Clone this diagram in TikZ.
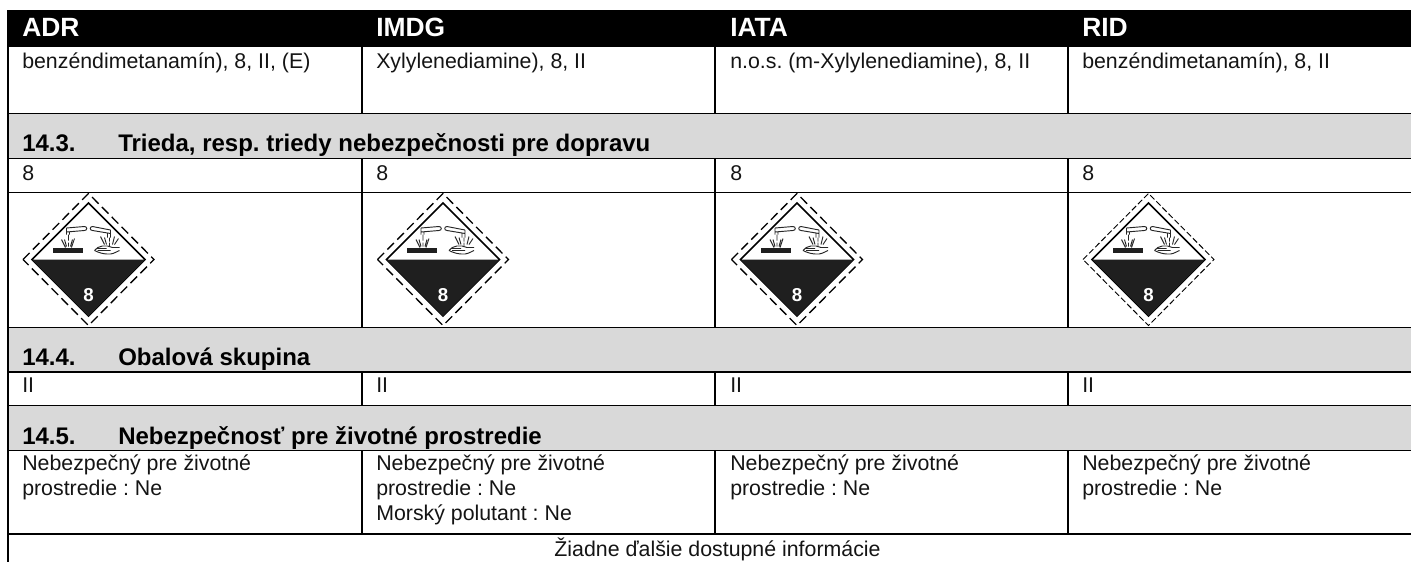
\documentclass[tikz,border=0pt]{standalone}
\usepackage{fontspec}
\setmainfont{Liberation Sans}
\definecolor{band}{RGB}{217,217,217}
\newcommand{\Ghs}[2]{%
 \begin{scope}[shift={(#1)}]
  \draw[dline,#2] (-65.5,0) -- (0,-66) -- (65.5,0) -- (0,66) -- cycle;
  \draw[line width=1.1pt,fill=white] (-56.5,0) -- (0,-56.5) -- (56.5,0) -- (0,56.5) -- cycle;
  \fill[inkd] (-56.5,0) -- (56.5,0) -- (0,56.5) -- cycle;
  \node[num] at (0,35.5) {8};
  \fill[inkd] (-36,-12) rectangle (-6,-7);
  \draw[picto] (-22,-31.5) -- (-4,-33) .. controls (-1,-33) and (-1,-29) .. (-4,-29) -- (-22,-27.5) (-22,-31.5) -- (-22,-25) (-19,-28) -- (-19,-25);
  \draw[picto] (-20,-25) -- (-20,-19) (-20,-17) -- (-20,-13) (-27,-20) -- (-23,-12) (-14,-21) -- (-17,-12) (-24,-20) -- (-22,-13) (-16,-20) -- (-18,-13);
  \draw[picto] (22,-29.5) -- (4,-33) .. controls (1,-33) and (1,-29) .. (4,-29) -- (22,-26) (22,-29.5) -- (22,-22) (19,-26.5) -- (19,-22);
  \draw[picto] (12,-23) -- (16,-15) (16,-22) -- (18,-15) (21,-22) -- (21,-18) (21,-17) -- (21,-13) (26,-23) -- (24,-15) (30,-21) -- (26,-15);
  \draw[picto,line width=0.7pt] (6,-9) .. controls (9,-14) and (18,-15) .. (24,-12) -- (31,-12) (6,-9) .. controls (10,-7) and (15,-5) .. (22,-5.5) .. controls (26,-6) and (28,-8) .. (31,-9) (9,-9) -- (22,-9) (8,-11) -- (18,-11);
 \end{scope}}
\tikzset{
 x=0.75pt,y=-0.75pt,
 rule/.style={line width=1.15pt,black},
 dline/.style={line width=1pt,dash pattern=on 7pt off 3.5pt,black},
 thind/.style={line width=0.7pt,dash pattern=on 4.5pt off 2pt},
 inkd/.style={fill=black!88},
 picto/.style={line width=0.7pt,black!85},
 num/.style={font=\bfseries\fontsize{14}{16}\selectfont,white,inner sep=0pt},
 head/.style={anchor=base west,font=\bfseries\fontsize{19.8}{22}\selectfont,white,inner sep=0pt},
 sect/.style={anchor=base west,font=\bfseries\fontsize{18}{20}\selectfont,black,inner sep=0pt},
 cell/.style={anchor=base west,font=\fontsize{16}{18}\selectfont,black!92,inner sep=0pt},
}
\begin{document}
\frenchspacing
\begin{tikzpicture}
\useasboundingbox (0,0) rectangle (1411,562);
\fill[black] (7,10) rectangle (1411,47);
\fill[band] (8,114) rectangle (1411,158);
\fill[band] (8,327) rectangle (1411,372);
\fill[band] (8,406) rectangle (1411,451);
\foreach \y in {113.5,158.5,192.5,327.3,372,405.7,450.5,534} \draw[rule] (7,\y) -- (1411,\y);
\draw[rule] (8,10) -- (8,562);
\foreach \x in {362,715,1068} {
 \draw[rule] (\x,47) -- (\x,113.5);
 \draw[rule] (\x,158.5) -- (\x,327);
 \draw[rule] (\x,372) -- (\x,405.5);
 \draw[rule] (\x,450.5) -- (\x,534);
}
\node[head] (h1) at (22,36) {ADR};
\node[head] (h2) at (376,36) {IMDG};
\node[head] (h3) at (730,36) {IATA};
\node[head] (h4) at (1082,36) {RID};
\node[cell] (a1) at (22,68) {benzéndimetanamín), 8, II, (E)};
\node[cell] (a2) at (376,68) {Xylylenediamine), 8, II};
\node[cell] (a3) at (730,68) {n.o.s. (m-Xylylenediamine), 8, II};
\node[cell] (a4) at (1082,68) {benzéndimetanamín), 8, II};
\node[sect] (s3) at (22,151) {14.3.};
\node[sect] (s3t) at (118,151) {Trieda, resp. triedy nebezpečnosti pre dopravu};
\foreach \x/\n in {22/b1,376/b2,730/b3,1082/b4} \node[cell] (\n) at (\x,180) {8};
\Ghs{88.5,259.5}{}
\Ghs{443,259.5}{}
\Ghs{797,259.5}{}
\Ghs{1148.5,259.5}{thind}
\node[sect] (s4) at (22,365.5) {14.4.};
\node[sect] (s4t) at (118,365.5) {Obalová skupina};
\foreach \x/\n in {22/c1,376/c2,730/c3,1082/c4} \node[cell] (\n) at (\x,392) {II};
\node[sect] (s5) at (22,444) {14.5.};
\node[sect] (s5t) at (118,444) {Nebezpečnosť pre životné prostredie};
\foreach \x/\n in {22/d1,376/d2,730/d3,1082/d4} {
 \node[cell] (\n a) at (\x,470.5) {Nebezpečný pre životné};
 \node[cell] (\n b) at (\x,495.5) {prostredie : Ne};
}
\node[cell] (d2c) at (376,520.5) {Morský polutant : Ne};
\node[cell,anchor=base] (e) at (717.5,556) {Žiadne ďalšie dostupné informácie};
\end{tikzpicture}
\end{document}
